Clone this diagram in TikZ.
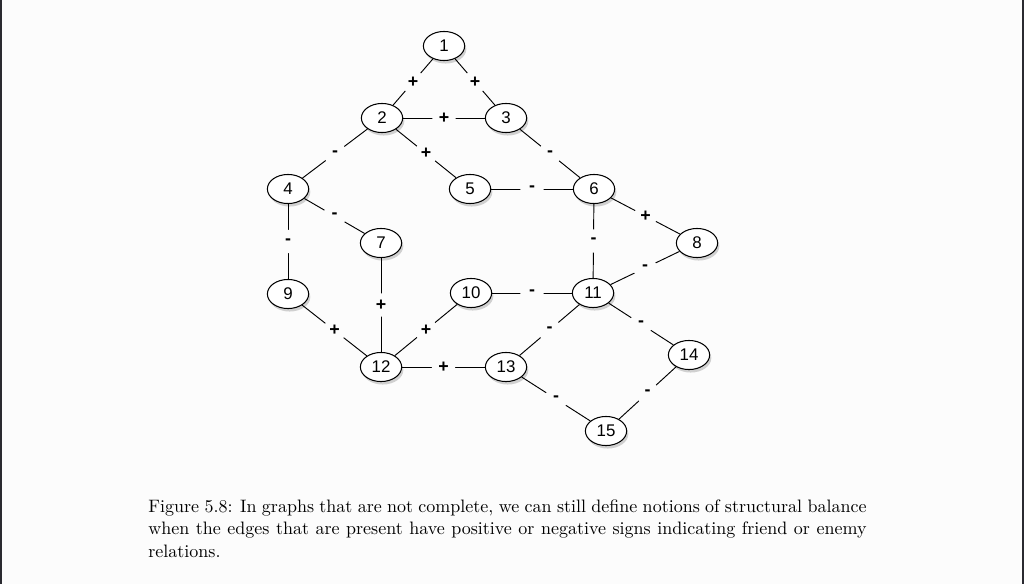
\documentclass[tikz,border=0pt]{standalone}
\usepackage{fontspec}
\newfontfamily\nodefont{Liberation Sans}
\usetikzlibrary{positioning, shapes.geometric, shadows}
\definecolor{pagebg}{RGB}{252,252,252}
\definecolor{frameline}{RGB}{42,42,48}
\tikzset{
    vertex/.style={draw, ellipse, fill=white, line width=0.55pt, minimum width=22pt, minimum height=15.5pt, inner sep=0pt,
        font=\nodefont\fontsize{9}{10}\selectfont,
        drop shadow={shadow xshift=0.9pt, shadow yshift=-1.6pt, opacity=0.35}},
    link/.style={line width=0.5pt},
    sign/.style={circle, fill=pagebg, inner sep=0pt, minimum size=12.5pt, font=\nodefont\bfseries\fontsize{9.5}{10}\selectfont}
}

\begin{document}
\begin{tikzpicture}[x=0.5333pt, y=-0.5333pt]
    \fill[pagebg] (0,0) rectangle (1024,584);
    \useasboundingbox (0,0) rectangle (1024,584);
    \fill[frameline] (0,0) rectangle (2,584);
    \fill[frameline] (1021.5,0) rectangle (1024,584);

    \node[vertex] (n1) at (444,46) {1};
    \node[vertex] (n2) at (382,118) {2};
    \node[vertex] (n3) at (506,118) {3};
    \node[vertex] (n4) at (288,189) {4};
    \node[vertex] (n5) at (470,189) {5};
    \node[vertex] (n6) at (594,189) {6};
    \node[vertex] (n7) at (381,243) {7};
    \node[vertex] (n8) at (697,243) {8};
    \node[vertex] (n9) at (288,294) {9};
    \node[vertex] (n10) at (471,293) {10};
    \node[vertex] (n11) at (593,293) {11};
    \node[vertex] (n12) at (381,367) {12};
    \node[vertex] (n13) at (506,367) {13};
    \node[vertex] (n14) at (689,355) {14};
    \node[vertex] (n15) at (606,431) {15};

    \draw[link] (n1) -- node[sign] {+} (n2);
    \draw[link] (n1) -- node[sign] {+} (n3);
    \draw[link] (n2) -- node[sign] {+} (n3);
    \draw[link] (n2) -- node[sign] {-} (n4);
    \draw[link] (n2) -- node[sign] {+} (n5);
    \draw[link] (n3) -- node[sign] {-} (n6);
    \draw[link] (n5) -- node[sign] {-} (n6);
    \draw[link] (n4) -- node[sign] {-} (n7);
    \draw[link] (n4) -- node[sign] {-} (n9);
    \draw[link] (n6) -- node[sign] {+} (n8);
    \draw[link] (n6) -- node[sign] {-} (n11);
    \draw[link] (n8) -- node[sign] {-} (n11);
    \draw[link] (n7) -- node[sign] {+} (n12);
    \draw[link] (n9) -- node[sign] {+} (n12);
    \draw[link] (n10) -- node[sign] {+} (n12);
    \draw[link] (n10) -- node[sign] {-} (n11);
    \draw[link] (n12) -- node[sign] {+} (n13);
    \draw[link] (n11) -- node[sign] {-} (n13);
    \draw[link] (n11) -- node[sign] {-} (n14);
    \draw[link] (n13) -- node[sign] {-} (n15);
    \draw[link] (n14) -- node[sign] {-} (n15);

    % caption
    \node[anchor=north west, inner sep=0pt, text width=383pt, align=justify,
        font=\fontsize{9.6}{12.2}\selectfont] (caption) at (148,499)
        {\hyphenpenalty=10000 \exhyphenpenalty=10000
        Figure 5.8: In graphs that are not complete, we can still define notions of structural balance\linebreak
        when the edges that are present have positive or negative signs indicating friend or enemy\linebreak
        relations.};
\end{tikzpicture}
\end{document}
